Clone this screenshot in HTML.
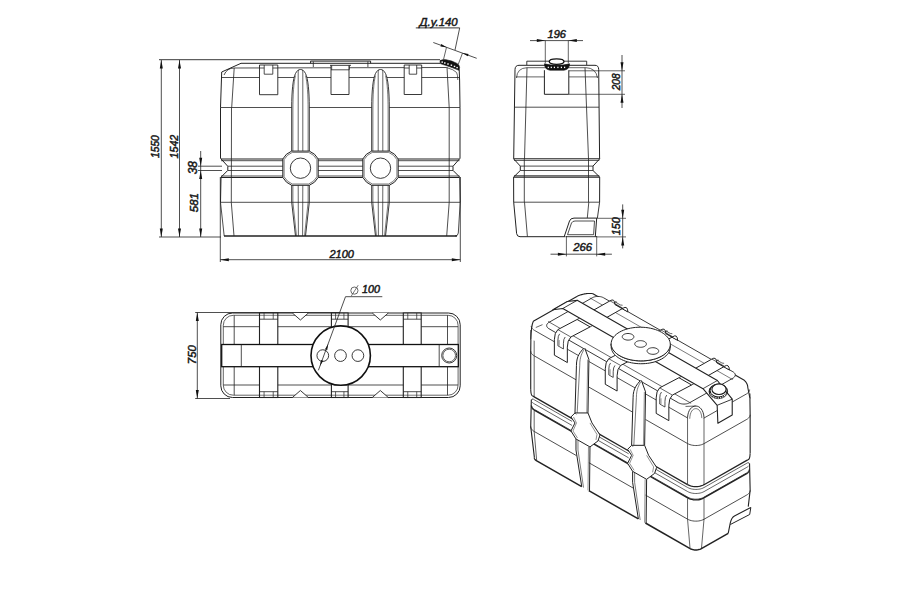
<!DOCTYPE html>
<html><head><meta charset="utf-8"><style>
html,body{margin:0;padding:0;background:#fff;}
svg{display:block;font-family:"Liberation Sans",sans-serif;}
</style></head><body>
<svg width="900" height="600" viewBox="0 0 900 600">
<rect width="900" height="600" fill="#fff"/>
<line x1="159" y1="59.7" x2="440" y2="59.7" stroke="#222" stroke-width="0.9"/>
<line x1="161.3" y1="60" x2="161.3" y2="237" stroke="#222" stroke-width="0.8"/>
<path d="M161.30,60.00 L162.80,68.50 L159.80,68.50 Z" fill="#111"/>
<path d="M161.30,237.00 L159.80,228.50 L162.80,228.50 Z" fill="#111"/>
<line x1="179.5" y1="60" x2="179.5" y2="237" stroke="#222" stroke-width="0.8"/>
<path d="M179.50,60.00 L181.00,68.50 L178.00,68.50 Z" fill="#111"/>
<path d="M179.50,237.00 L178.00,228.50 L181.00,228.50 Z" fill="#111"/>
<line x1="159" y1="237" x2="221" y2="237" stroke="#222" stroke-width="0.8"/>
<line x1="200.7" y1="151" x2="200.7" y2="237" stroke="#222" stroke-width="0.8"/>
<path d="M200.70,166.20 L199.20,157.70 L202.20,157.70 Z" fill="#111"/>
<path d="M200.70,170.50 L202.20,179.00 L199.20,179.00 Z" fill="#111"/>
<path d="M200.70,237.00 L199.20,228.50 L202.20,228.50 Z" fill="#111"/>
<line x1="198" y1="166.2" x2="222" y2="166.2" stroke="#222" stroke-width="0.8"/>
<line x1="198" y1="170.5" x2="222" y2="170.5" stroke="#222" stroke-width="0.8"/>
<line x1="220.3" y1="177" x2="220.3" y2="262" stroke="#222" stroke-width="0.8"/>
<line x1="460.3" y1="177" x2="460.3" y2="262" stroke="#222" stroke-width="0.8"/>
<line x1="220.3" y1="259.7" x2="460.3" y2="259.7" stroke="#222" stroke-width="0.8"/>
<path d="M220.30,259.70 L228.80,258.20 L228.80,261.20 Z" fill="#111"/>
<path d="M460.30,259.70 L451.80,261.20 L451.80,258.20 Z" fill="#111"/>
<text x="159.2" y="158.05" font-size="10.31" font-style="italic" text-anchor="start" fill="#1a1a1a" stroke="#1a1a1a" stroke-width="0.5" transform="rotate(-90 159.2 158.05)">1550</text>
<text x="177.8" y="158.55" font-size="10.74" font-style="italic" text-anchor="start" fill="#1a1a1a" stroke="#1a1a1a" stroke-width="0.5" transform="rotate(-90 177.8 158.55)">1542</text>
<text x="197.0" y="174.25" font-size="11.9" font-style="italic" text-anchor="start" fill="#1a1a1a" stroke="#1a1a1a" stroke-width="0.5" transform="rotate(-90 197.0 174.25)">38</text>
<text x="198.0" y="212.25" font-size="11.47" font-style="italic" text-anchor="start" fill="#1a1a1a" stroke="#1a1a1a" stroke-width="0.5" transform="rotate(-90 198.0 212.25)">581</text>
<text x="329.4" y="257.8" font-size="11.02" font-style="italic" text-anchor="start" fill="#1a1a1a" stroke="#1a1a1a" stroke-width="0.5">2100</text>
<path d="M221.7,72 L241,63.3 L440,63.3" stroke="#222" stroke-width="1.0" fill="none" stroke-linejoin="round"/>
<path d="M310.6,63.3 L310.6,61.1 L370.6,61.1 L370.6,63.3" stroke="#222" stroke-width="1.0" fill="none" stroke-linejoin="round"/>
<line x1="313.3" y1="61.5" x2="313.3" y2="67" stroke="#222" stroke-width="0.8"/>
<line x1="367.9" y1="61.5" x2="367.9" y2="67" stroke="#222" stroke-width="0.8"/>
<path d="M224,75 Q227,68 234.2,68 L446.5,67.5" stroke="#222" stroke-width="0.8" fill="none" stroke-linejoin="round"/>
<line x1="234.2" y1="68" x2="231.7" y2="107.5" stroke="#222" stroke-width="0.8"/>
<line x1="222" y1="77.5" x2="459" y2="77.5" stroke="#222" stroke-width="0.8"/>
<path d="M221.7,72 L220.5,107.5 L220.5,158.3 L227.8,166.3 L227.8,170.4 L221,177.2 L220.5,202.5" stroke="#222" stroke-width="1.0" fill="none" stroke-linejoin="round"/>
<line x1="231.5" y1="107.5" x2="231.3" y2="202.5" stroke="#222" stroke-width="0.8"/>
<path d="M220.5,202.5 L224.2,236" stroke="#222" stroke-width="0.8" fill="none" stroke-linejoin="round"/>
<path d="M231.3,202.5 L234,236" stroke="#222" stroke-width="0.8" fill="none" stroke-linejoin="round"/>
<path d="M459.2,69.5 L459.6,80 L460,107.5 L460,158.3 L453,166.3 L453,170.4 L459.8,177.2 L460.2,202.5" stroke="#222" stroke-width="1.0" fill="none" stroke-linejoin="round"/>
<line x1="447" y1="67.3" x2="449.2" y2="107.5" stroke="#222" stroke-width="0.8"/>
<line x1="449.2" y1="107.5" x2="449.2" y2="202.5" stroke="#222" stroke-width="0.8"/>
<path d="M460.2,202.5 L458.3,233 Q458,236 455,236" stroke="#222" stroke-width="0.8" fill="none" stroke-linejoin="round"/>
<path d="M449.2,202.5 L446.7,236" stroke="#222" stroke-width="0.8" fill="none" stroke-linejoin="round"/>
<line x1="220.5" y1="107.5" x2="460" y2="107.5" stroke="#222" stroke-width="0.8"/>
<line x1="221" y1="159.0" x2="459.5" y2="159.0" stroke="#222" stroke-width="1.1"/>
<line x1="221" y1="160.7" x2="459.5" y2="160.7" stroke="#222" stroke-width="0.8"/>
<line x1="227.8" y1="166.2" x2="453" y2="166.2" stroke="#222" stroke-width="0.8"/>
<line x1="227.8" y1="170.5" x2="453" y2="170.5" stroke="#222" stroke-width="0.8"/>
<line x1="221" y1="176.0" x2="459.5" y2="176.0" stroke="#222" stroke-width="0.8"/>
<line x1="221" y1="177.5" x2="459.5" y2="177.5" stroke="#222" stroke-width="1.1"/>
<line x1="220.5" y1="202.3" x2="460.2" y2="202.3" stroke="#222" stroke-width="0.8"/>
<line x1="224" y1="236" x2="457" y2="236" stroke="#222" stroke-width="1.3"/>
<path d="M259.5,65 L259.5,94.7 L277.8,94.7 L277.8,65 Z" stroke="#222" stroke-width="0.9" fill="#fff" stroke-linejoin="round"/>
<path d="M264.2,65 L264.2,74.2 L272.8,74.2 L272.8,65" stroke="#222" stroke-width="0.8" fill="none" stroke-linejoin="round"/>
<line x1="259.5" y1="68" x2="264.2" y2="68" stroke="#222" stroke-width="0.8"/>
<line x1="272.8" y1="68" x2="277.8" y2="68" stroke="#222" stroke-width="0.8"/>
<path d="M404.2,65 L404.2,94.5 L421.7,94.5 L421.7,65 Z" stroke="#222" stroke-width="0.9" fill="#fff" stroke-linejoin="round"/>
<path d="M409.2,65 L409.2,74.2 L416.7,74.2 L416.7,65" stroke="#222" stroke-width="0.8" fill="none" stroke-linejoin="round"/>
<line x1="404.2" y1="68" x2="409.2" y2="68" stroke="#222" stroke-width="0.8"/>
<line x1="416.7" y1="68" x2="421.7" y2="68" stroke="#222" stroke-width="0.8"/>
<path d="M331,65.5 L331,94.5 L349,94.5 L349,65.5" stroke="#222" stroke-width="0.9" fill="#fff" stroke-linejoin="round"/>
<path d="M330,65.3 L351,65.3" stroke="#222" stroke-width="0.9" fill="none" stroke-linejoin="round"/>
<line x1="331.7" y1="65.3" x2="331.7" y2="69.8" stroke="#222" stroke-width="0.7"/>
<line x1="349.4" y1="65.3" x2="349.4" y2="69.8" stroke="#222" stroke-width="0.7"/>
<line x1="331" y1="69.8" x2="349" y2="69.8" stroke="#222" stroke-width="0.8"/>
<path d="M291.7,151 L291.7,107 C291.7,92 293.0,78 295.5,73.5 C297.0,70.5 298.7,69.5 300.5,69.5 C302.3,69.5 304.0,70.5 305.5,73.5 C308.0,78 309.3,92 309.3,107 L309.3,151" stroke="#222" stroke-width="0.9" fill="#fff" stroke-linejoin="round"/>
<path d="M292.9,151 L292.9,110 C292.9,95 293.7,82 295.5,75.5" stroke="#222" stroke-width="0.6" fill="none" stroke-linejoin="round"/>
<path d="M308.1,151 L308.1,110 C308.1,95 307.3,82 305.5,75.5" stroke="#222" stroke-width="0.6" fill="none" stroke-linejoin="round"/>
<line x1="298.2" y1="70" x2="298.2" y2="151" stroke="#222" stroke-width="0.7"/>
<line x1="302.8" y1="70" x2="302.8" y2="151" stroke="#222" stroke-width="0.7"/>
<path d="M291.7,185 L291.7,202.3 L295.5,236 M309.3,185 L309.3,202.3 L305.5,236" stroke="#222" stroke-width="0.9" fill="none" stroke-linejoin="round"/>
<path d="M292.9,185 L292.9,202.3 L296.5,236 M308.1,185 L308.1,202.3 L304.5,236" stroke="#222" stroke-width="0.6" fill="none" stroke-linejoin="round"/>
<line x1="298.2" y1="185" x2="298.4" y2="236" stroke="#222" stroke-width="0.7"/>
<line x1="302.8" y1="185" x2="302.6" y2="236" stroke="#222" stroke-width="0.7"/>
<path d="M291.7,151.1 L309.3,151.1 Q315.35,153.45 318.2,159.0 L318.2,177.39999999999998 Q315.35,182.95 309.3,185.29999999999998 L291.7,185.29999999999998 Q285.65,182.95 282.8,177.39999999999998 L282.8,159.0 Q285.65,153.45 291.7,151.1 Z" stroke="#222" stroke-width="1.0" fill="#fff" stroke-linejoin="round"/>
<path d="M292.3,152.39999999999998 L308.7,152.39999999999998 Q314.2,154.59999999999997 316.9,159.6 L316.9,176.79999999999998 Q314.2,181.8 308.7,184.0 L292.3,184.0 Q286.8,181.8 284.1,176.79999999999998 L284.1,159.6 Q286.8,154.59999999999997 292.3,152.39999999999998 Z" stroke="#222" stroke-width="0.6" fill="none" stroke-linejoin="round"/>
<circle cx="300.5" cy="168.2" r="10.2" stroke="#222" stroke-width="0.9" fill="none"/>
<path d="M371.7,151 L371.7,107 C371.7,92 373.0,78 375.5,73.5 C377.0,70.5 378.7,69.5 380.5,69.5 C382.3,69.5 384.0,70.5 385.5,73.5 C388.0,78 389.3,92 389.3,107 L389.3,151" stroke="#222" stroke-width="0.9" fill="#fff" stroke-linejoin="round"/>
<path d="M372.9,151 L372.9,110 C372.9,95 373.7,82 375.5,75.5" stroke="#222" stroke-width="0.6" fill="none" stroke-linejoin="round"/>
<path d="M388.1,151 L388.1,110 C388.1,95 387.3,82 385.5,75.5" stroke="#222" stroke-width="0.6" fill="none" stroke-linejoin="round"/>
<line x1="378.2" y1="70" x2="378.2" y2="151" stroke="#222" stroke-width="0.7"/>
<line x1="382.8" y1="70" x2="382.8" y2="151" stroke="#222" stroke-width="0.7"/>
<path d="M371.7,185 L371.7,202.3 L375.5,236 M389.3,185 L389.3,202.3 L385.5,236" stroke="#222" stroke-width="0.9" fill="none" stroke-linejoin="round"/>
<path d="M372.9,185 L372.9,202.3 L376.5,236 M388.1,185 L388.1,202.3 L384.5,236" stroke="#222" stroke-width="0.6" fill="none" stroke-linejoin="round"/>
<line x1="378.2" y1="185" x2="378.4" y2="236" stroke="#222" stroke-width="0.7"/>
<line x1="382.8" y1="185" x2="382.6" y2="236" stroke="#222" stroke-width="0.7"/>
<path d="M371.7,151.1 L389.3,151.1 Q395.35,153.45 398.2,159.0 L398.2,177.39999999999998 Q395.35,182.95 389.3,185.29999999999998 L371.7,185.29999999999998 Q365.65,182.95 362.8,177.39999999999998 L362.8,159.0 Q365.65,153.45 371.7,151.1 Z" stroke="#222" stroke-width="1.0" fill="#fff" stroke-linejoin="round"/>
<path d="M372.3,152.39999999999998 L388.7,152.39999999999998 Q394.2,154.59999999999997 396.9,159.6 L396.9,176.79999999999998 Q394.2,181.8 388.7,184.0 L372.3,184.0 Q366.8,181.8 364.1,176.79999999999998 L364.1,159.6 Q366.8,154.59999999999997 372.3,152.39999999999998 Z" stroke="#222" stroke-width="0.6" fill="none" stroke-linejoin="round"/>
<circle cx="380.5" cy="168.2" r="10.2" stroke="#222" stroke-width="0.9" fill="none"/>
<path d="M440,60.6 Q443,59.3 446,59.7 Q452,60.6 457,63.4 Q459.6,65 459.6,67.5 L459,70.3 Q452,67.4 445.5,65.3 Q442,64.3 440.3,63.6 Z" stroke="#111" stroke-width="0.6" fill="#111" stroke-linejoin="round"/>
<rect x="441.45" y="61.4" width="1.5" height="1.4" fill="#fff"/>
<rect x="444.05" y="62.3" width="1.5" height="1.4" fill="#fff"/>
<rect x="447.25" y="63.3" width="1.5" height="1.4" fill="#fff"/>
<rect x="450.65" y="64.5" width="1.5" height="1.4" fill="#fff"/>
<rect x="453.75" y="65.7" width="1.5" height="1.4" fill="#fff"/>
<rect x="456.35" y="66.89999999999999" width="1.5" height="1.4" fill="#fff"/>
<path d="M446.5,67.5 Q454,69.5 456.6,72.5 Q457.8,75 457.8,80" stroke="#222" stroke-width="0.7" fill="none" stroke-linejoin="round"/>
<line x1="433.3" y1="42.5" x2="476.7" y2="58.3" stroke="#222" stroke-width="0.8"/>
<path d="M446.50,47.30 L440.45,46.38 L441.27,44.12 Z" fill="#111"/>
<path d="M462.50,53.10 L468.55,54.02 L467.73,56.28 Z" fill="#111"/>
<line x1="446.5" y1="47.3" x2="443.5" y2="59.5" stroke="#222" stroke-width="0.7"/>
<line x1="462.5" y1="53.1" x2="458.2" y2="64.5" stroke="#222" stroke-width="0.7"/>
<line x1="415.8" y1="27.9" x2="459.7" y2="27.9" stroke="#222" stroke-width="0.9"/>
<line x1="459.7" y1="27.9" x2="455" y2="50" stroke="#222" stroke-width="0.8"/>
<text x="419.55" y="26.0" font-size="11.35" font-style="italic" text-anchor="start" fill="#1a1a1a" stroke="#1a1a1a" stroke-width="0.5">Д.у.140</text>
<line x1="530" y1="40.6" x2="583" y2="40.6" stroke="#222" stroke-width="0.8"/>
<path d="M545.30,40.60 L536.80,42.10 L536.80,39.10 Z" fill="#111"/>
<path d="M568.30,40.60 L576.80,39.10 L576.80,42.10 Z" fill="#111"/>
<line x1="545.3" y1="40.6" x2="545.3" y2="63.4" stroke="#222" stroke-width="0.7"/>
<line x1="568.3" y1="40.6" x2="568.3" y2="63.4" stroke="#222" stroke-width="0.7"/>
<text x="547.6" y="37.6" font-size="11.01" font-style="italic" text-anchor="start" fill="#1a1a1a" stroke="#1a1a1a" stroke-width="0.5">196</text>
<line x1="569" y1="70.8" x2="625" y2="70.8" stroke="#222" stroke-width="0.7"/>
<line x1="569" y1="94.3" x2="625" y2="94.3" stroke="#222" stroke-width="0.7"/>
<line x1="622" y1="55" x2="622" y2="108" stroke="#222" stroke-width="0.8"/>
<path d="M622.00,70.80 L620.50,62.30 L623.50,62.30 Z" fill="#111"/>
<path d="M622.00,94.30 L623.50,102.80 L620.50,102.80 Z" fill="#111"/>
<text x="620.0" y="90.35" font-size="10.15" font-style="italic" text-anchor="start" fill="#1a1a1a" stroke="#1a1a1a" stroke-width="0.5" transform="rotate(-90 620.0 90.35)">208</text>
<line x1="596" y1="218.3" x2="626" y2="218.3" stroke="#222" stroke-width="0.7"/>
<line x1="597" y1="236.9" x2="626" y2="236.9" stroke="#222" stroke-width="0.7"/>
<line x1="622.7" y1="204.4" x2="622.7" y2="248.4" stroke="#222" stroke-width="0.8"/>
<path d="M622.70,218.30 L621.20,209.80 L624.20,209.80 Z" fill="#111"/>
<path d="M622.70,236.90 L624.20,245.40 L621.20,245.40 Z" fill="#111"/>
<text x="620.0" y="235.25" font-size="10.75" font-style="italic" text-anchor="start" fill="#1a1a1a" stroke="#1a1a1a" stroke-width="0.5" transform="rotate(-90 620.0 235.25)">150</text>
<line x1="550.5" y1="254.2" x2="611.9" y2="254.2" stroke="#222" stroke-width="0.8"/>
<path d="M566.40,254.20 L557.90,255.70 L557.90,252.70 Z" fill="#111"/>
<path d="M596.70,254.20 L605.20,252.70 L605.20,255.70 Z" fill="#111"/>
<line x1="566.4" y1="236" x2="566.4" y2="256.4" stroke="#222" stroke-width="0.7"/>
<line x1="596.7" y1="236" x2="596.7" y2="256.4" stroke="#222" stroke-width="0.7"/>
<text x="573.25" y="251.0" font-size="11.33" font-style="italic" text-anchor="start" fill="#1a1a1a" stroke="#1a1a1a" stroke-width="0.5">266</text>
<path d="M526.8,65 L526.8,61.2 L586.7,61.2 L586.7,65" stroke="#222" stroke-width="0.9" fill="none" stroke-linejoin="round"/>
<path d="M513.7,158.8 L515,69.5 Q515.2,65.3 519,65.3 L595,65.3 Q598.6,65.3 598.7,69.5 L599.6,158.8" stroke="#222" stroke-width="1.0" fill="none" stroke-linejoin="round"/>
<path d="M516.5,78 Q517,68 527,67.7 L586,67.7 Q596,68 597.5,78" stroke="#222" stroke-width="0.7" fill="none" stroke-linejoin="round"/>
<line x1="516" y1="76.9" x2="545" y2="76.9" stroke="#222" stroke-width="0.7"/>
<line x1="569" y1="76.9" x2="598" y2="76.9" stroke="#222" stroke-width="0.7"/>
<line x1="527" y1="67.7" x2="524.5" y2="158.8" stroke="#222" stroke-width="0.8"/>
<line x1="585" y1="67.7" x2="588.5" y2="158.8" stroke="#222" stroke-width="0.8"/>
<line x1="515" y1="107.2" x2="599" y2="107.2" stroke="#222" stroke-width="0.8"/>
<path d="M544.4,70.2 L544.4,94.3 L568.8,94.3 L568.8,70.2" stroke="#222" stroke-width="1.0" fill="#fff" stroke-linejoin="round"/>
<path d="M544.4,63.8 Q544.6,69.6 550,70.2 L564,70.2 Q569.4,69.6 569.6,63.8 Q563,65.6 557,65.6 Q551,65.6 544.4,63.8 Z" stroke="#111" stroke-width="0.6" fill="#111" stroke-linejoin="round"/>
<ellipse cx="556.6" cy="61.6" rx="7.4" ry="2.7" stroke="#111" stroke-width="1.3" fill="#fff" transform="rotate(0 556.6 61.6)"/>
<rect x="547.6999999999999" y="66.7" width="1.2" height="1.4" fill="#fff"/>
<rect x="550.6999999999999" y="66.7" width="1.2" height="1.4" fill="#fff"/>
<rect x="553.8" y="66.7" width="1.2" height="1.4" fill="#fff"/>
<rect x="557.3" y="66.7" width="1.2" height="1.4" fill="#fff"/>
<rect x="560.8" y="66.7" width="1.2" height="1.4" fill="#fff"/>
<rect x="564.0" y="66.7" width="1.2" height="1.4" fill="#fff"/>
<path d="M513.6,158.8 L520.3,166.1 L520.3,170.5 L513.6,177.1 L513.7,202.2" stroke="#222" stroke-width="1.0" fill="none" stroke-linejoin="round"/>
<path d="M599.7,158.8 L593,166.1 L593,170.5 L599.7,177.1 L599.6,202.2" stroke="#222" stroke-width="1.0" fill="none" stroke-linejoin="round"/>
<line x1="513.6" y1="158.8" x2="599.7" y2="158.8" stroke="#222" stroke-width="1.1"/>
<line x1="514" y1="160.4" x2="599.3" y2="160.4" stroke="#222" stroke-width="0.8"/>
<line x1="520.3" y1="166.1" x2="593" y2="166.1" stroke="#222" stroke-width="0.8"/>
<line x1="520.3" y1="170.5" x2="593" y2="170.5" stroke="#222" stroke-width="0.8"/>
<line x1="514" y1="175.7" x2="599.3" y2="175.7" stroke="#222" stroke-width="0.8"/>
<line x1="513.6" y1="177.1" x2="599.7" y2="177.1" stroke="#222" stroke-width="1.1"/>
<line x1="524.3" y1="158.8" x2="524.3" y2="202.2" stroke="#222" stroke-width="0.8"/>
<line x1="588.5" y1="158.8" x2="588.5" y2="202.2" stroke="#222" stroke-width="0.8"/>
<line x1="513.7" y1="202.2" x2="599.6" y2="202.2" stroke="#222" stroke-width="0.8"/>
<path d="M513.7,202.2 L516.6,233.5 Q517,236.7 520,236.7 L565.5,236.7" stroke="#222" stroke-width="1.0" fill="none" stroke-linejoin="round"/>
<line x1="524.5" y1="202.2" x2="527.4" y2="236.5" stroke="#222" stroke-width="0.8"/>
<line x1="588.8" y1="202.2" x2="587.3" y2="218" stroke="#222" stroke-width="0.8"/>
<line x1="599.6" y1="202.2" x2="597.4" y2="218.1" stroke="#222" stroke-width="0.9"/>
<path d="M564.2,236.7 L569.5,221 Q570.5,218.1 574,218.1 L596.7,218.1 L595.3,236.7" stroke="#222" stroke-width="1.0" fill="none" stroke-linejoin="round"/>
<path d="M567.5,234.7 L571.5,223 Q572.5,221 575,221 L594.5,221 L593.6,234.7 Z" stroke="#222" stroke-width="0.8" fill="none" stroke-linejoin="round"/>
<line x1="566" y1="236.7" x2="597" y2="236.7" stroke="#222" stroke-width="0.9"/>
<line x1="195.2" y1="312.5" x2="340" y2="312.5" stroke="#222" stroke-width="0.8"/>
<line x1="195.2" y1="398.5" x2="230" y2="398.5" stroke="#222" stroke-width="0.8"/>
<line x1="197.3" y1="312.5" x2="197.3" y2="398.5" stroke="#222" stroke-width="0.8"/>
<path d="M197.30,312.50 L198.80,321.00 L195.80,321.00 Z" fill="#111"/>
<path d="M197.30,398.50 L195.80,390.00 L198.80,390.00 Z" fill="#111"/>
<text x="195.8" y="364.15" font-size="11.33" font-style="italic" text-anchor="start" fill="#1a1a1a" stroke="#1a1a1a" stroke-width="0.5" transform="rotate(-90 195.8 364.15)">750</text>
<rect x="220.8" y="313" width="239.4" height="84.5" rx="11.7" ry="11.7" stroke="#222" stroke-width="1.0" fill="none"/>
<rect x="223.3" y="315.3" width="234.8" height="79.9" rx="10" ry="10" stroke="#222" stroke-width="0.7" fill="none"/>
<line x1="234.2" y1="315.3" x2="234.2" y2="395.2" stroke="#222" stroke-width="0.8"/>
<line x1="447.5" y1="315.3" x2="447.5" y2="395.2" stroke="#222" stroke-width="0.8"/>
<line x1="223.3" y1="326.7" x2="458" y2="326.7" stroke="#222" stroke-width="0.8"/>
<line x1="223.3" y1="385" x2="458" y2="385" stroke="#222" stroke-width="0.8"/>
<path d="M292.4,313 L300.4,320 L308.4,313" stroke="#222" stroke-width="0.9" fill="#fff" stroke-linejoin="round"/>
<path d="M292.4,397.5 L300.4,390.5 L308.4,397.5" stroke="#222" stroke-width="0.9" fill="#fff" stroke-linejoin="round"/>
<path d="M372.3,313 L380.3,320 L388.3,313" stroke="#222" stroke-width="0.9" fill="#fff" stroke-linejoin="round"/>
<path d="M372.3,397.5 L380.3,390.5 L388.3,397.5" stroke="#222" stroke-width="0.9" fill="#fff" stroke-linejoin="round"/>
<rect x="259.5" y="313" width="18.30000000000001" height="84.5" stroke="#222" stroke-width="1.1" fill="#fff"/>
<line x1="259.5" y1="319.2" x2="277.8" y2="319.2" stroke="#222" stroke-width="0.8"/>
<line x1="259.5" y1="391.7" x2="277.8" y2="391.7" stroke="#222" stroke-width="0.8"/>
<line x1="264.075" y1="313" x2="264.075" y2="319.2" stroke="#222" stroke-width="0.7"/>
<line x1="273.225" y1="313" x2="273.225" y2="319.2" stroke="#222" stroke-width="0.7"/>
<line x1="264.075" y1="391.7" x2="264.075" y2="397.5" stroke="#222" stroke-width="0.7"/>
<line x1="273.225" y1="391.7" x2="273.225" y2="397.5" stroke="#222" stroke-width="0.7"/>
<line x1="259.5" y1="315.3" x2="277.8" y2="315.3" stroke="#222" stroke-width="0.6"/>
<line x1="259.5" y1="395.2" x2="277.8" y2="395.2" stroke="#222" stroke-width="0.6"/>
<rect x="331.4" y="313" width="16.700000000000045" height="84.5" stroke="#222" stroke-width="1.1" fill="#fff"/>
<line x1="331.4" y1="319.2" x2="348.1" y2="319.2" stroke="#222" stroke-width="0.8"/>
<line x1="331.4" y1="391.7" x2="348.1" y2="391.7" stroke="#222" stroke-width="0.8"/>
<line x1="335.575" y1="313" x2="335.575" y2="319.2" stroke="#222" stroke-width="0.7"/>
<line x1="343.925" y1="313" x2="343.925" y2="319.2" stroke="#222" stroke-width="0.7"/>
<line x1="335.575" y1="391.7" x2="335.575" y2="397.5" stroke="#222" stroke-width="0.7"/>
<line x1="343.925" y1="391.7" x2="343.925" y2="397.5" stroke="#222" stroke-width="0.7"/>
<line x1="331.4" y1="315.3" x2="348.1" y2="315.3" stroke="#222" stroke-width="0.6"/>
<line x1="331.4" y1="395.2" x2="348.1" y2="395.2" stroke="#222" stroke-width="0.6"/>
<rect x="403.3" y="313" width="17.899999999999977" height="84.5" stroke="#222" stroke-width="1.1" fill="#fff"/>
<line x1="403.3" y1="319.2" x2="421.2" y2="319.2" stroke="#222" stroke-width="0.8"/>
<line x1="403.3" y1="391.7" x2="421.2" y2="391.7" stroke="#222" stroke-width="0.8"/>
<line x1="407.775" y1="313" x2="407.775" y2="319.2" stroke="#222" stroke-width="0.7"/>
<line x1="416.725" y1="313" x2="416.725" y2="319.2" stroke="#222" stroke-width="0.7"/>
<line x1="407.775" y1="391.7" x2="407.775" y2="397.5" stroke="#222" stroke-width="0.7"/>
<line x1="416.725" y1="391.7" x2="416.725" y2="397.5" stroke="#222" stroke-width="0.7"/>
<line x1="403.3" y1="315.3" x2="421.2" y2="315.3" stroke="#222" stroke-width="0.6"/>
<line x1="403.3" y1="395.2" x2="421.2" y2="395.2" stroke="#222" stroke-width="0.6"/>
<rect x="221.7" y="344.5" width="236.6" height="22.2" stroke="#111" stroke-width="1.3" fill="#fff"/>
<line x1="241.3" y1="344.5" x2="241.3" y2="366.7" stroke="#222" stroke-width="0.8"/>
<line x1="439.2" y1="344.5" x2="439.2" y2="366.7" stroke="#222" stroke-width="0.8"/>
<circle cx="449.2" cy="355.5" r="7.5" stroke="#222" stroke-width="0.9" fill="none"/>
<circle cx="449.2" cy="355.5" r="6.3" stroke="#222" stroke-width="0.7" fill="none"/>
<circle cx="340.7" cy="355.6" r="29.7" stroke="#111" stroke-width="1.6" fill="#fff"/>
<circle cx="322.8" cy="355.6" r="5.85" stroke="#222" stroke-width="0.9" fill="none"/>
<circle cx="340.5" cy="355.6" r="5.85" stroke="#222" stroke-width="0.9" fill="none"/>
<circle cx="357.9" cy="355.6" r="5.85" stroke="#222" stroke-width="0.9" fill="none"/>
<line x1="345.5" y1="296.7" x2="382.3" y2="296.7" stroke="#222" stroke-width="0.8"/>
<line x1="345.5" y1="296.7" x2="318.4" y2="370.3" stroke="#222" stroke-width="0.8"/>
<path d="M328.20,344.00 L327.26,350.05 L325.01,349.22 Z" fill="#111"/>
<path d="M320.00,366.00 L320.94,359.95 L323.19,360.78 Z" fill="#111"/>
<text x="361.95" y="293.4" font-size="10.75" font-style="italic" text-anchor="start" fill="#1a1a1a" stroke="#1a1a1a" stroke-width="0.5">100</text>
<circle cx="354.4" cy="290.6" r="3.6" stroke="#555" stroke-width="0.9" fill="none"/>
<line x1="351.2" y1="296.2" x2="358.2" y2="285.2" stroke="#555" stroke-width="0.8"/>
<path d="M534.41,457.61 L534.43,457.91 L534.48,458.21 L534.56,458.50 L534.68,458.79 L534.84,459.08 L535.02,459.36 L535.24,459.64 L535.49,459.90 L535.77,460.16 L536.08,460.40 L536.41,460.64 L536.77,460.86 L581.73,486.57" stroke="#222" stroke-width="1.5" fill="none" stroke-linejoin="round"/>
<path d="M588.81,490.62 L638.37,518.97" stroke="#222" stroke-width="1.5" fill="none" stroke-linejoin="round"/>
<path d="M645.45,523.02 L690.13,548.58" stroke="#222" stroke-width="1.5" fill="none" stroke-linejoin="round"/>
<path d="M690.13,548.58 L690.13,548.58 L690.91,548.98 L691.78,549.31 L692.72,549.58 L693.71,549.77 L694.73,549.90 L695.77,549.94 L696.81,549.91 L697.83,549.80 L698.82,549.61 L699.75,549.36 L700.61,549.03 L701.39,548.64 L728.20,533.44" stroke="#222" stroke-width="1.5" fill="none" stroke-linejoin="round"/>
<path d="M530.72,426.68 L530.75,427.12 L530.83,427.56 L530.95,427.99 L531.13,428.42 L531.35,428.84 L531.62,429.25 L531.94,429.65 L532.31,430.04 L532.72,430.41 L533.17,430.77 L533.66,431.11 L534.18,431.43 L576.45,455.61" stroke="#222" stroke-width="0.8" fill="none" stroke-linejoin="round"/>
<path d="M588.91,462.74 L633.09,488.01" stroke="#222" stroke-width="0.8" fill="none" stroke-linejoin="round"/>
<path d="M645.55,495.14 L687.54,519.15" stroke="#222" stroke-width="0.8" fill="none" stroke-linejoin="round"/>
<path d="M687.54,519.15 L687.54,519.15 L688.69,519.73 L689.96,520.22 L691.33,520.61 L692.78,520.90 L694.27,521.08 L695.79,521.14 L697.31,521.10 L698.81,520.94 L700.25,520.66 L701.61,520.29 L702.87,519.81 L704.01,519.25 L746.78,494.99 L747.29,494.68 L747.77,494.35 L748.21,494.00 L748.61,493.64 L748.96,493.26 L749.27,492.87 L749.54,492.47 L749.75,492.06 L749.92,491.64 L750.05,491.22 L750.12,490.79 L750.15,490.36" stroke="#222" stroke-width="0.8" fill="none" stroke-linejoin="round"/>
<path d="M531.52,405.96 L531.54,406.37 L531.62,406.77 L531.73,407.17 L531.90,407.57 L532.11,407.96 L532.36,408.35 L532.66,408.72 L533.00,409.08 L533.38,409.43 L533.80,409.76 L534.25,410.08 L534.74,410.38 L573.33,432.45" stroke="#222" stroke-width="1.3" fill="none" stroke-linejoin="round"/>
<path d="M593.15,443.79 L629.97,464.85" stroke="#222" stroke-width="1.3" fill="none" stroke-linejoin="round"/>
<path d="M649.79,476.19 L688.10,498.11" stroke="#222" stroke-width="1.3" fill="none" stroke-linejoin="round"/>
<path d="M688.10,498.11 L688.10,498.11 L689.17,498.64 L690.35,499.10 L691.63,499.47 L692.98,499.73 L694.37,499.90 L695.79,499.96 L697.20,499.91 L698.59,499.76 L699.94,499.51 L701.21,499.16 L702.38,498.72 L703.44,498.19 L746.21,473.94 L746.69,473.65 L747.14,473.34 L747.55,473.01 L747.92,472.68 L748.25,472.32 L748.53,471.96 L748.78,471.59 L748.98,471.20 L749.14,470.81 L749.26,470.42 L749.33,470.02 L749.35,469.62" stroke="#222" stroke-width="1.3" fill="none" stroke-linejoin="round"/>
<path d="M531.32,405.06 L531.35,405.48 L531.42,405.89 L531.54,406.30 L531.70,406.71 L531.92,407.10 L532.18,407.50 L532.48,407.88 L532.82,408.24 L533.21,408.60 L533.64,408.94 L534.10,409.26 L534.60,409.57 L573.19,431.64" stroke="#222" stroke-width="0.8" fill="none" stroke-linejoin="round"/>
<path d="M593.01,442.98 L629.83,464.04" stroke="#222" stroke-width="0.8" fill="none" stroke-linejoin="round"/>
<path d="M649.65,475.38 L687.96,497.29" stroke="#222" stroke-width="0.8" fill="none" stroke-linejoin="round"/>
<path d="M687.96,497.29 L687.96,497.29 L689.05,497.84 L690.26,498.30 L691.56,498.68 L692.93,498.95 L694.35,499.12 L695.79,499.18 L697.23,499.13 L698.65,498.98 L700.01,498.72 L701.31,498.37 L702.50,497.92 L703.59,497.38 L746.36,473.12 L746.84,472.83 L747.30,472.51 L747.71,472.18 L748.09,471.84 L748.42,471.48 L748.72,471.11 L748.97,470.73 L749.18,470.34 L749.34,469.94 L749.45,469.54 L749.52,469.13 L749.55,468.73" stroke="#222" stroke-width="0.8" fill="none" stroke-linejoin="round"/>
<path d="M531.84,401.89 L531.99,402.06 L532.15,402.24 L532.32,402.40 L532.49,402.57 L532.68,402.74 L532.87,402.90 L533.07,403.05 L533.28,403.21 L533.49,403.36 L533.72,403.51 L533.95,403.65 L534.18,403.79 L572.06,425.46" stroke="#222" stroke-width="0.7" fill="none" stroke-linejoin="round"/>
<path d="M593.30,437.61 L628.70,457.86" stroke="#222" stroke-width="0.7" fill="none" stroke-linejoin="round"/>
<path d="M649.94,470.01 L687.54,491.51" stroke="#222" stroke-width="0.7" fill="none" stroke-linejoin="round"/>
<path d="M687.54,491.51 L687.54,491.51 L688.69,492.09 L689.96,492.58 L691.33,492.97 L692.78,493.26 L694.27,493.44 L695.79,493.50 L697.31,493.45 L698.81,493.29 L700.25,493.02 L701.61,492.65 L702.87,492.17 L704.01,491.61 L746.78,467.35 L746.96,467.25 L747.13,467.14 L747.30,467.04 L747.46,466.93 L747.62,466.82 L747.78,466.70 L747.93,466.59 L748.08,466.47 L748.22,466.35 L748.36,466.23 L748.49,466.11 L748.62,465.99" stroke="#222" stroke-width="0.7" fill="none" stroke-linejoin="round"/>
<path d="M533.11,399.02 L533.19,399.08 L533.28,399.14 L533.36,399.20 L533.45,399.26 L533.54,399.32 L533.63,399.38 L533.72,399.44 L533.81,399.50 L533.90,399.56 L533.99,399.61 L534.09,399.67 L534.18,399.72 L572.06,421.39" stroke="#222" stroke-width="0.7" fill="none" stroke-linejoin="round"/>
<path d="M593.30,433.54 L628.70,453.79" stroke="#222" stroke-width="0.7" fill="none" stroke-linejoin="round"/>
<path d="M649.94,465.94 L687.54,487.45" stroke="#222" stroke-width="0.7" fill="none" stroke-linejoin="round"/>
<path d="M687.54,487.45 L687.54,487.45 L688.69,488.03 L689.96,488.52 L691.33,488.91 L692.78,489.19 L694.27,489.37 L695.79,489.44 L697.31,489.39 L698.81,489.23 L700.25,488.96 L701.61,488.58 L702.87,488.11 L704.01,487.54 L746.78,463.28 L746.85,463.24 L746.92,463.20 L746.99,463.16 L747.06,463.12 L747.13,463.08 L747.20,463.03 L747.26,462.99 L747.33,462.95 L747.40,462.91 L747.46,462.86 L747.53,462.82 L747.59,462.77" stroke="#222" stroke-width="0.7" fill="none" stroke-linejoin="round"/>
<path d="M532.64,395.79 L532.75,395.89 L532.87,395.99 L532.99,396.08 L533.11,396.17 L533.24,396.27 L533.36,396.36 L533.49,396.45 L533.63,396.54 L533.76,396.62 L533.90,396.71 L534.04,396.80 L534.18,396.88 L573.48,419.36" stroke="#222" stroke-width="1.3" fill="none" stroke-linejoin="round"/>
<path d="M591.89,429.89 L630.12,451.76" stroke="#222" stroke-width="1.3" fill="none" stroke-linejoin="round"/>
<path d="M648.53,462.29 L687.54,484.60" stroke="#222" stroke-width="1.3" fill="none" stroke-linejoin="round"/>
<path d="M687.54,484.60 L687.54,484.60 L688.69,485.18 L689.96,485.67 L691.33,486.06 L692.78,486.35 L694.27,486.53 L695.79,486.59 L697.31,486.54 L698.81,486.38 L700.25,486.11 L701.61,485.74 L702.87,485.26 L704.01,484.70 L746.78,460.44 L746.87,460.38 L746.97,460.33 L747.06,460.27 L747.15,460.22 L747.24,460.16 L747.33,460.10 L747.42,460.05 L747.51,459.99 L747.59,459.93 L747.67,459.87 L747.76,459.81 L747.84,459.75" stroke="#222" stroke-width="1.3" fill="none" stroke-linejoin="round"/>
<path d="M530.72,389.69 Q531.02,395.79 532.64,395.79" stroke="#222" stroke-width="1.1" fill="none" stroke-linejoin="round"/>
<path d="M531.32,399.86 Q531.82,399.02 533.11,399.02" stroke="#222" stroke-width="0.9" fill="none" stroke-linejoin="round"/>
<path d="M750.15,453.37 Q749.85,459.75 747.84,459.75" stroke="#222" stroke-width="1.1" fill="none" stroke-linejoin="round"/>
<path d="M749.55,463.52 Q749.05,462.77 747.59,462.77" stroke="#222" stroke-width="0.9" fill="none" stroke-linejoin="round"/>
<path d="M530.72,351.07 L530.75,351.51 L530.83,351.95 L530.95,352.38 L531.13,352.81 L531.35,353.23 L531.62,353.64 L531.94,354.04 L532.31,354.43 L532.72,354.80 L533.17,355.16 L533.66,355.50 L534.18,355.82 L576.45,380.00" stroke="#222" stroke-width="0.8" fill="none" stroke-linejoin="round"/>
<path d="M588.91,387.13 L633.09,412.40" stroke="#222" stroke-width="0.8" fill="none" stroke-linejoin="round"/>
<path d="M645.55,419.53 L687.54,443.55" stroke="#222" stroke-width="0.8" fill="none" stroke-linejoin="round"/>
<path d="M687.54,443.55 L687.54,443.55 L688.69,444.12 L689.96,444.61 L691.33,445.01 L692.78,445.29 L694.27,445.47 L695.79,445.54 L697.31,445.49 L698.81,445.33 L700.25,445.06 L701.61,444.68 L702.87,444.20 L704.01,443.64 L746.78,419.38 L747.29,419.07 L747.77,418.74 L748.21,418.39 L748.61,418.03 L748.96,417.65 L749.27,417.26 L749.54,416.86 L749.75,416.45 L749.92,416.03 L750.05,415.61 L750.12,415.18 L750.15,414.75" stroke="#222" stroke-width="0.8" fill="none" stroke-linejoin="round"/>
<path d="M534.41,457.61 L530.72,426.68 L531.32,399.86" stroke="#222" stroke-width="1.1" fill="none" stroke-linejoin="round"/>
<path d="M748.25,506.60 L750.15,490.36 L749.55,463.52" stroke="#222" stroke-width="1.1" fill="none" stroke-linejoin="round"/>
<path d="M530.72,389.69 L530.72,351.07 L531.02,329.94" stroke="#222" stroke-width="1.1" fill="none" stroke-linejoin="round"/>
<path d="M750.15,453.37 L750.15,414.75 L749.85,393.61" stroke="#222" stroke-width="1.1" fill="none" stroke-linejoin="round"/>
<path d="M536.71,460.89 L534.18,431.43" stroke="#222" stroke-width="0.7" fill="none" stroke-linejoin="round"/>
<path d="M534.18,431.43 L534.18,410.70" stroke="#222" stroke-width="0.7" fill="none" stroke-linejoin="round"/>
<path d="M534.18,396.88 L534.18,355.82" stroke="#222" stroke-width="0.7" fill="none" stroke-linejoin="round"/>
<path d="M534.18,355.82 L534.18,329.81" stroke="#222" stroke-width="0.7" fill="none" stroke-linejoin="round"/>
<path d="M690.06,548.62 L687.54,519.15" stroke="#222" stroke-width="0.7" fill="none" stroke-linejoin="round"/>
<path d="M687.54,519.15 L687.54,498.42" stroke="#222" stroke-width="0.7" fill="none" stroke-linejoin="round"/>
<path d="M687.54,484.60 L687.54,443.55" stroke="#222" stroke-width="0.7" fill="none" stroke-linejoin="round"/>
<path d="M687.54,443.55 L687.54,417.53" stroke="#222" stroke-width="0.7" fill="none" stroke-linejoin="round"/>
<path d="M701.46,548.68 L704.01,519.25" stroke="#222" stroke-width="0.7" fill="none" stroke-linejoin="round"/>
<path d="M704.01,519.25 L704.01,498.52" stroke="#222" stroke-width="0.7" fill="none" stroke-linejoin="round"/>
<path d="M704.01,484.70 L704.01,443.64" stroke="#222" stroke-width="0.7" fill="none" stroke-linejoin="round"/>
<path d="M704.01,443.64 L704.01,417.62" stroke="#222" stroke-width="0.7" fill="none" stroke-linejoin="round"/>
<path d="M530.92,339.69 Q531.12,325.50 533.25,321.43 L533.25,321.43 L534.09,320.79 L535.08,320.18 L576.45,296.71 L577.59,296.12 L578.85,295.57 L580.22,295.06 L581.66,294.61 L583.15,294.22 L584.67,293.91 L586.19,293.67 L587.69,293.51 L589.13,293.43 L590.50,293.44 L591.77,293.53 L592.92,293.70 L744.30,380.29 L744.82,380.82 L745.31,381.36 L745.76,381.92 L746.17,382.50 L746.54,383.08 L746.85,383.67 L747.13,384.27 L747.35,384.87 L747.53,385.47 L747.65,386.07 L747.73,386.66 L747.75,387.25 L749.95,398.49" stroke="#222" stroke-width="1.1" fill="#fff" stroke-linejoin="round"/>
<path d="M531.22,325.88 L531.25,326.29 L531.32,326.71 L531.44,327.12 L531.61,327.53 L531.82,327.94 L532.08,328.33 L532.39,328.71 L532.74,329.09 L533.13,329.44 L533.56,329.79 L534.03,330.11 L534.53,330.42 L687.89,418.14" stroke="#222" stroke-width="0.8" fill="none" stroke-linejoin="round"/>
<path d="M703.66,418.23 L746.43,393.98 L746.92,393.68 L747.38,393.36 L747.79,393.03 L748.17,392.68 L748.51,392.32 L748.81,391.95 L749.06,391.56 L749.27,391.17 L749.44,390.77 L749.55,390.36 L749.62,389.95 L749.65,389.54" stroke="#222" stroke-width="0.8" fill="none" stroke-linejoin="round"/>
<path d="M687.54,417.53 C687.94,410.03 691.77,406.03 695.77,406.03 C699.77,406.03 703.61,410.03 704.01,417.62" stroke="#222" stroke-width="0.9" fill="none" stroke-linejoin="round"/>
<path d="M689.74,418.73 C690.04,411.63 692.77,408.63 695.77,408.63 C698.77,408.63 701.51,411.63 701.81,418.12" stroke="#222" stroke-width="0.6" fill="none" stroke-linejoin="round"/>
<path d="M548.96,322.35 L548.15,322.88 L547.50,323.49 L547.03,324.14 L546.75,324.83 L546.65,325.54 L546.76,326.25 L547.06,326.95 L547.54,327.61 L548.20,328.22 L549.02,328.76 L678.30,402.72 L679.26,403.18 L680.32,403.56 L681.48,403.84 L682.70,404.01 L683.95,404.08 L685.19,404.03 L686.40,403.87 L687.56,403.60 L688.62,403.24 L689.56,402.78 L732.96,378.17 L733.77,377.63 L734.42,377.03 L734.89,376.37 L735.17,375.68 L735.27,374.97 L735.16,374.26 L734.86,373.57 L734.38,372.91 L733.72,372.30 L732.90,371.75 L603.62,297.80 L602.66,297.33 L601.60,296.95 L600.44,296.67 L599.22,296.50 L597.97,296.44 L596.73,296.48 L595.52,296.64 L594.36,296.91 L593.30,297.28 L592.36,297.73 Z" stroke="#222" stroke-width="0.9" fill="#fff" stroke-linejoin="round"/>
<path d="M535.80,327.51 L542.50,324.64" stroke="#222" stroke-width="0.7" fill="none" stroke-linejoin="round"/>
<path d="M695.77,406.03 L685.52,406.45" stroke="#222" stroke-width="0.7" fill="none" stroke-linejoin="round"/>
<path d="M695.77,406.03 L691.47,400.88" stroke="#222" stroke-width="0.0" fill="none" stroke-linejoin="round"/>
<path d="M548.10,321.46 L691.12,403.27" stroke="#222" stroke-width="0.7" fill="none" stroke-linejoin="round"/>
<path d="M589.75,297.84 L732.77,379.65" stroke="#222" stroke-width="0.6" fill="none" stroke-linejoin="round"/>
<path d="M574.98,412.94 L576.45,365.37 C576.45,355.37 580.72,352.03 583.72,348.03 L584.72,348.03 L588.91,359.49 L587.98,412.94 Z" stroke="none" stroke-width="0.0" fill="#fff" stroke-linejoin="round"/>
<path d="M574.98,412.94 L576.45,365.37 C576.45,355.37 580.72,352.03 583.72,348.03" stroke="#222" stroke-width="1.0" fill="none" stroke-linejoin="round"/>
<path d="M577.18,412.94 L579.76,365.27 C579.76,356.27 582.22,353.03 584.22,349.03" stroke="#222" stroke-width="0.6" fill="none" stroke-linejoin="round"/>
<path d="M587.98,412.94 L588.91,359.49 L584.72,348.03" stroke="#222" stroke-width="1.0" fill="none" stroke-linejoin="round"/>
<path d="M586.78,412.94 L587.71,359.49" stroke="#222" stroke-width="0.5" fill="none" stroke-linejoin="round"/>
<path d="M575.98,438.94 L575.98,449.94 L581.73,486.57" stroke="#222" stroke-width="1.0" fill="none" stroke-linejoin="round"/>
<path d="M577.98,439.94 L577.98,449.94 L583.53,487.57" stroke="#222" stroke-width="0.6" fill="none" stroke-linejoin="round"/>
<path d="M589.98,446.94 L589.50,491.16" stroke="#222" stroke-width="1.0" fill="none" stroke-linejoin="round"/>
<path d="M588.48,446.94 L588.00,490.36" stroke="#222" stroke-width="0.5" fill="none" stroke-linejoin="round"/>
<path d="M574.98,412.94 L587.98,412.94 L591.98,422.94 L599.98,434.94 L597.98,440.94 L589.98,446.94 L575.98,438.94 L570.98,430.94 L574.98,422.94 L570.98,416.94 Z" stroke="#222" stroke-width="1.0" fill="#fff" stroke-linejoin="round"/>
<path d="M574.98,412.94 L576.48,414.44" stroke="#222" stroke-width="0.6" fill="none" stroke-linejoin="round"/>
<path d="M573.48,416.94 L576.48,422.94 L572.98,430.94 L577.48,437.94" stroke="#222" stroke-width="0.5" fill="none" stroke-linejoin="round"/>
<path d="M589.98,422.94 L596.98,434.44 L595.98,439.94" stroke="#222" stroke-width="0.5" fill="none" stroke-linejoin="round"/>
<path d="M631.62,445.34 L633.09,397.77 C633.09,387.77 637.36,384.43 640.36,380.43 L641.36,380.43 L645.55,391.89 L644.62,445.34 Z" stroke="none" stroke-width="0.0" fill="#fff" stroke-linejoin="round"/>
<path d="M631.62,445.34 L633.09,397.77 C633.09,387.77 637.36,384.43 640.36,380.43" stroke="#222" stroke-width="1.0" fill="none" stroke-linejoin="round"/>
<path d="M633.82,445.34 L636.40,397.67 C636.40,388.67 638.86,385.43 640.86,381.43" stroke="#222" stroke-width="0.6" fill="none" stroke-linejoin="round"/>
<path d="M644.62,445.34 L645.55,391.89 L641.36,380.43" stroke="#222" stroke-width="1.0" fill="none" stroke-linejoin="round"/>
<path d="M643.42,445.34 L644.35,391.89" stroke="#222" stroke-width="0.5" fill="none" stroke-linejoin="round"/>
<path d="M632.62,471.34 L632.62,482.34 L638.37,518.97" stroke="#222" stroke-width="1.0" fill="none" stroke-linejoin="round"/>
<path d="M634.62,472.34 L634.62,482.34 L640.17,519.97" stroke="#222" stroke-width="0.6" fill="none" stroke-linejoin="round"/>
<path d="M646.62,479.34 L646.14,523.56" stroke="#222" stroke-width="1.0" fill="none" stroke-linejoin="round"/>
<path d="M645.12,479.34 L644.64,522.76" stroke="#222" stroke-width="0.5" fill="none" stroke-linejoin="round"/>
<path d="M631.62,445.34 L644.62,445.34 L648.62,455.34 L656.62,467.34 L654.62,473.34 L646.62,479.34 L632.62,471.34 L627.62,463.34 L631.62,455.34 L627.62,449.34 Z" stroke="#222" stroke-width="1.0" fill="#fff" stroke-linejoin="round"/>
<path d="M631.62,445.34 L633.12,446.84" stroke="#222" stroke-width="0.6" fill="none" stroke-linejoin="round"/>
<path d="M630.12,449.34 L633.12,455.34 L629.62,463.34 L634.12,470.34" stroke="#222" stroke-width="0.5" fill="none" stroke-linejoin="round"/>
<path d="M646.62,455.34 L653.62,466.84 L652.62,472.34" stroke="#222" stroke-width="0.5" fill="none" stroke-linejoin="round"/>
<path d="M591.47,311.35 L610.02,300.83 Q614.57,297.85 614.92,304.56 L627.88,311.97 Q627.53,305.26 622.98,308.25 L604.43,318.77 Z" stroke="#222" stroke-width="1.0" fill="#fff" stroke-linejoin="round"/>
<path d="M610.02,300.83 L622.98,308.25" stroke="#222" stroke-width="0.7" fill="none" stroke-linejoin="round"/>
<path d="M617.06,302.09 L614.96,301.82 L620.48,304.98 L622.58,305.25" stroke="#222" stroke-width="0.7" fill="none" stroke-linejoin="round"/>
<path d="M554.37,355.16 L554.37,339.71 Q554.37,332.80 557.87,329.60 L577.12,319.49 L590.08,326.90 L570.83,337.01 Q567.33,340.21 567.33,347.12 L567.33,362.57 Z" stroke="#222" stroke-width="1.0" fill="#fff" stroke-linejoin="round"/>
<path d="M557.87,329.60 L570.83,337.01" stroke="#222" stroke-width="0.7" fill="none" stroke-linejoin="round"/>
<path d="M559.66,333.83 Q557.91,335.64 557.91,340.11 L557.91,345.80 L563.43,348.96 L563.43,343.27 Q563.43,338.80 565.18,336.99" stroke="#222" stroke-width="0.8" fill="none" stroke-linejoin="round"/>
<path d="M559.18,345.72 L559.18,340.03" stroke="#222" stroke-width="0.5" fill="none" stroke-linejoin="round"/>
<path d="M577.12,319.49 L591.47,311.35" stroke="#222" stroke-width="0.8" fill="none" stroke-linejoin="round"/>
<path d="M590.08,326.90 L604.43,318.77" stroke="#222" stroke-width="0.8" fill="none" stroke-linejoin="round"/>
<path d="M642.37,340.47 L660.92,329.95 Q665.47,326.97 665.82,333.68 L677.65,340.44 Q677.30,333.73 672.75,336.72 L654.20,347.24 Z" stroke="#222" stroke-width="1.0" fill="#fff" stroke-linejoin="round"/>
<path d="M660.92,329.95 L672.75,336.72" stroke="#222" stroke-width="0.7" fill="none" stroke-linejoin="round"/>
<path d="M667.96,331.21 L665.86,330.94 L670.25,333.45 L672.35,333.72" stroke="#222" stroke-width="0.7" fill="none" stroke-linejoin="round"/>
<path d="M605.27,384.28 L605.27,368.83 Q605.27,361.92 608.77,358.72 L628.02,348.61 L639.85,355.38 L620.60,365.48 Q617.10,368.68 617.10,375.60 L617.10,391.04 Z" stroke="#222" stroke-width="1.0" fill="#fff" stroke-linejoin="round"/>
<path d="M608.77,358.72 L620.60,365.48" stroke="#222" stroke-width="0.7" fill="none" stroke-linejoin="round"/>
<path d="M610.56,362.95 Q608.81,364.76 608.81,369.23 L608.81,374.92 L613.20,377.43 L613.20,371.74 Q613.20,367.27 614.95,365.46" stroke="#222" stroke-width="0.8" fill="none" stroke-linejoin="round"/>
<path d="M610.09,374.84 L610.09,369.15" stroke="#222" stroke-width="0.5" fill="none" stroke-linejoin="round"/>
<path d="M628.02,348.61 L642.37,340.47" stroke="#222" stroke-width="0.8" fill="none" stroke-linejoin="round"/>
<path d="M639.85,355.38 L654.20,347.24" stroke="#222" stroke-width="0.8" fill="none" stroke-linejoin="round"/>
<path d="M693.28,369.59 L711.83,359.07 Q716.38,356.09 716.73,362.80 L729.40,370.05 Q729.05,363.33 724.50,366.32 L705.95,376.84 Z" stroke="#222" stroke-width="1.0" fill="#fff" stroke-linejoin="round"/>
<path d="M711.83,359.07 L724.50,366.32" stroke="#222" stroke-width="0.7" fill="none" stroke-linejoin="round"/>
<path d="M718.87,360.33 L716.77,360.06 L722.01,363.06 L724.11,363.33" stroke="#222" stroke-width="0.7" fill="none" stroke-linejoin="round"/>
<path d="M656.18,413.40 L656.18,397.95 Q656.18,391.04 659.68,387.84 L678.93,377.73 L691.60,384.98 L672.35,395.09 Q668.85,398.29 668.85,405.20 L668.85,420.65 Z" stroke="#222" stroke-width="1.0" fill="#fff" stroke-linejoin="round"/>
<path d="M659.68,387.84 L672.35,395.09" stroke="#222" stroke-width="0.7" fill="none" stroke-linejoin="round"/>
<path d="M661.47,392.07 Q659.72,393.88 659.72,398.35 L659.72,404.04 L664.96,407.04 L664.96,401.35 Q664.96,396.88 666.71,395.07" stroke="#222" stroke-width="0.8" fill="none" stroke-linejoin="round"/>
<path d="M660.99,403.96 L660.99,398.27" stroke="#222" stroke-width="0.5" fill="none" stroke-linejoin="round"/>
<path d="M678.93,377.73 L693.28,369.59" stroke="#222" stroke-width="0.8" fill="none" stroke-linejoin="round"/>
<path d="M691.60,384.98 L705.95,376.84" stroke="#222" stroke-width="0.8" fill="none" stroke-linejoin="round"/>
<path d="M552.91,309.71 L562.82,308.47 L703.00,388.66 L717.16,405.29 L717.87,423.18 L732.22,415.04 L732.22,399.19 L717.35,380.52 L577.17,300.33 L567.26,301.57 Z" stroke="#222" stroke-width="1.1" fill="#fff" stroke-linejoin="round"/>
<path d="M562.82,308.47 L577.17,300.33" stroke="#222" stroke-width="0.9" fill="none" stroke-linejoin="round"/>
<path d="M703.00,388.66 L717.35,380.52" stroke="#222" stroke-width="0.8" fill="none" stroke-linejoin="round"/>
<path d="M717.16,405.29 L732.22,399.19" stroke="#222" stroke-width="0.9" fill="none" stroke-linejoin="round"/>
<path d="M611.15,346.63 L611.24,347.95 L611.51,349.27 L611.97,350.57 L612.60,351.85 L613.40,353.10 L614.37,354.31 L615.51,355.47 L616.80,356.58 L618.23,357.63 L619.81,358.62 L621.51,359.53 L623.34,360.36 L625.27,361.12 L627.29,361.78 L629.40,362.35 L631.58,362.83 L633.82,363.21 L636.09,363.49 L638.40,363.66 L640.72,363.74 L643.04,363.70 L645.34,363.57 L647.62,363.33 L649.86,362.99 L652.03,362.55 L654.14,362.02 L656.17,361.39 L658.10,360.67 L659.92,359.87 L661.63,358.99 L663.20,358.03 L664.64,357.01 L665.93,355.92 L667.07,354.78 L668.04,353.58 L668.84,352.35 L669.47,351.08 L669.92,349.79 L670.20,348.48 L670.29,347.16 L670.29,344.31 L670.20,345.63 L669.92,346.94 L669.47,348.24 L668.84,349.50 L668.04,350.74 L667.07,351.93 L665.93,353.07 L664.64,354.16 L663.20,355.19 L661.63,356.14 L659.92,357.03 L658.10,357.83 L656.17,358.55 L654.14,359.17 L652.03,359.71 L649.86,360.15 L647.62,360.49 L645.34,360.72 L643.04,360.86 L640.72,360.89 L638.40,360.82 L636.09,360.64 L633.82,360.36 L631.58,359.98 L629.40,359.51 L627.29,358.94 L625.27,358.27 L623.34,357.52 L621.51,356.68 L619.81,355.77 L618.23,354.79 L616.80,353.73 L615.51,352.62 L614.37,351.46 L613.40,350.25 L612.60,349.00 L611.97,347.72 L611.51,346.42 L611.24,345.11 L611.15,343.79 Z" stroke="#222" stroke-width="1.0" fill="#fff" stroke-linejoin="round"/>
<path d="M661.75,356.08 L663.48,355.00 L665.04,353.85 L666.41,352.62 L667.59,351.32 L668.56,349.97 L669.32,348.57 L669.87,347.14 L670.19,345.68 L670.29,344.22 L670.16,342.75 L669.81,341.29 L669.24,339.85 L668.45,338.45 L667.45,337.08 L666.24,335.77 L664.84,334.53 L663.26,333.35 L661.51,332.26 L659.60,331.25 L657.54,330.35 L655.36,329.55 L653.06,328.85 L650.67,328.28 L648.21,327.82 L645.69,327.49 L643.13,327.28 L640.55,327.21 L637.97,327.26 L635.42,327.43 L632.90,327.74 L630.45,328.16 L628.07,328.71 L625.79,329.38 L623.62,330.16 L621.58,331.04 L619.69,332.02 L617.96,333.09 L616.40,334.25 L615.03,335.48 L613.85,336.78 L612.87,338.13 L612.11,339.53 L611.57,340.96 L611.25,342.41 L611.15,343.88 L611.28,345.35 L611.63,346.81 L612.20,348.25 L612.99,349.65 L613.99,351.01 L615.19,352.32 L616.59,353.57 L618.17,354.75 L619.93,355.84 L621.84,356.84 L623.90,357.75 L626.08,358.55 L628.37,359.24 L630.76,359.82 L633.23,360.27 L635.75,360.61 L638.31,360.81 L640.89,360.89 L643.46,360.84 L646.02,360.66 L648.53,360.36 L650.99,359.93 L653.37,359.38 L655.65,358.72 L657.82,357.94 L659.85,357.06 L661.75,356.08 Z" stroke="#222" stroke-width="1.0" fill="#fff" stroke-linejoin="round"/>
<path d="M632.19,339.17 L632.91,338.67 L633.44,338.10 L633.76,337.48 L633.87,336.83 L633.75,336.18 L633.41,335.56 L632.87,334.98 L632.14,334.48 L631.25,334.06 L630.24,333.75 L629.15,333.55 L628.01,333.48 L626.88,333.54 L625.79,333.72 L624.78,334.02 L623.90,334.43 L623.18,334.93 L622.65,335.50 L622.33,336.12 L622.22,336.77 L622.34,337.41 L622.68,338.04 L623.22,338.61 L623.95,339.12 L624.84,339.54 L625.85,339.85 L626.94,340.05 L628.08,340.12 L629.21,340.06 L630.30,339.88 L631.31,339.58 L632.19,339.17 Z" stroke="#222" stroke-width="0.9" fill="none" stroke-linejoin="round"/>
<path d="M644.72,346.34 L645.44,345.84 L645.97,345.27 L646.30,344.65 L646.40,344.00 L646.28,343.35 L645.94,342.73 L645.40,342.15 L644.67,341.65 L643.78,341.23 L642.77,340.92 L641.68,340.72 L640.54,340.65 L639.41,340.71 L638.32,340.89 L637.31,341.19 L636.43,341.60 L635.72,342.10 L635.18,342.67 L634.86,343.29 L634.75,343.93 L634.87,344.58 L635.21,345.21 L635.75,345.78 L636.48,346.29 L637.37,346.71 L638.38,347.02 L639.47,347.22 L640.61,347.29 L641.75,347.23 L642.84,347.05 L643.84,346.74 L644.72,346.34 Z" stroke="#222" stroke-width="0.9" fill="none" stroke-linejoin="round"/>
<path d="M657.04,353.38 L657.76,352.89 L658.29,352.31 L658.61,351.69 L658.72,351.05 L658.60,350.40 L658.26,349.78 L657.72,349.20 L656.99,348.69 L656.10,348.27 L655.09,347.96 L654.00,347.77 L652.86,347.70 L651.73,347.75 L650.64,347.94 L649.63,348.24 L648.75,348.65 L648.03,349.14 L647.50,349.71 L647.18,350.34 L647.07,350.98 L647.19,351.63 L647.53,352.25 L648.07,352.83 L648.80,353.34 L649.69,353.75 L650.70,354.07 L651.79,354.26 L652.93,354.33 L654.06,354.27 L655.16,354.09 L656.16,353.79 L657.04,353.38 Z" stroke="#222" stroke-width="0.9" fill="none" stroke-linejoin="round"/>
<ellipse cx="718.3" cy="391.4" rx="9.3" ry="7.3" fill="#1a1a1a" stroke="#1a1a1a" stroke-width="0.8"/>
<ellipse cx="718.6" cy="390.6" rx="8.0" ry="6.0" fill="#fff" stroke="none"/>
<rect x="710.28" y="393.39" width="1.2" height="1.2" fill="#fff"/>
<rect x="711.43" y="395.01" width="1.2" height="1.2" fill="#fff"/>
<rect x="713.17" y="396.30" width="1.2" height="1.2" fill="#fff"/>
<rect x="715.32" y="397.12" width="1.2" height="1.2" fill="#fff"/>
<rect x="717.70" y="397.40" width="1.2" height="1.2" fill="#fff"/>
<rect x="720.08" y="397.12" width="1.2" height="1.2" fill="#fff"/>
<rect x="722.23" y="396.30" width="1.2" height="1.2" fill="#fff"/>
<rect x="723.97" y="395.01" width="1.2" height="1.2" fill="#fff"/>
<rect x="725.12" y="393.39" width="1.2" height="1.2" fill="#fff"/>
<ellipse cx="719" cy="389.2" rx="7.1" ry="5.3" fill="#fff" stroke="#1a1a1a" stroke-width="1.1"/>
<path d="M728.20,533.44 L730.30,522.89 Q731.50,517.50 734.44,515.99 L750.82,507.43" stroke="#222" stroke-width="1.1" fill="none" stroke-linejoin="round"/>
<path d="M730.30,524.52 L749.70,514.48 L750.82,507.43" stroke="#222" stroke-width="1.0" fill="none" stroke-linejoin="round"/>
</svg></body></html>
